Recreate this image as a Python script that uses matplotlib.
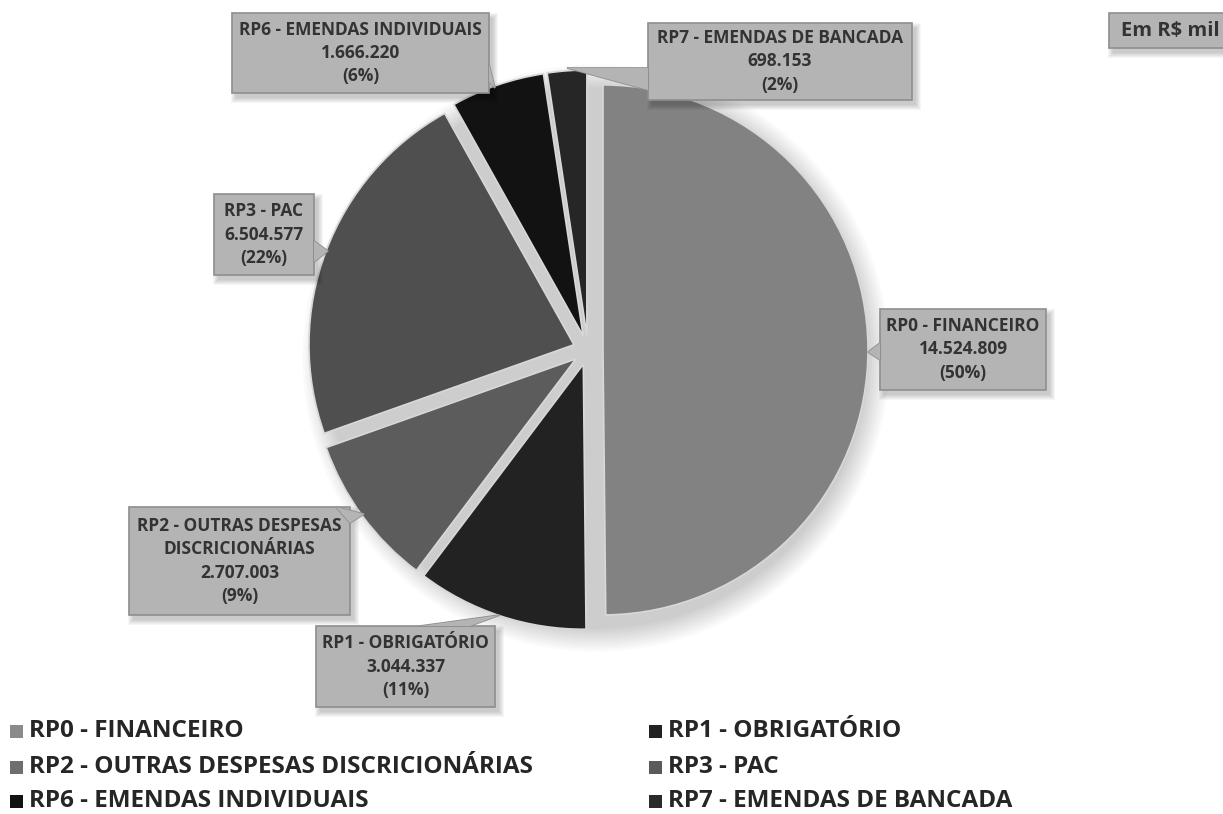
import matplotlib.pyplot as plt
from matplotlib.patches import Rectangle, Polygon, Circle

plt.rcParams['font.family'] = ['Open Sans', 'DejaVu Sans']

categories = ["RP0 - FINANCEIRO", "RP1 - OBRIGATÓRIO",
              "RP2 - OUTRAS DESPESAS DISCRICIONÁRIAS", "RP3 - PAC",
              "RP6 - EMENDAS INDIVIDUAIS", "RP7 - EMENDAS DE BANCADA"]
box_titles = ["RP0 - FINANCEIRO", "RP1 - OBRIGATÓRIO",
              "RP2 - OUTRAS DESPESAS\nDISCRICIONÁRIAS", "RP3 - PAC",
              "RP6 - EMENDAS INDIVIDUAIS", "RP7 - EMENDAS DE BANCADA"]
values = [14524809, 3044337, 2707003, 6504577, 1666220, 698153]
pct_labels = ["50%", "11%", "9%", "22%", "6%", "2%"]
colors = ["#828282", "#222222", "#5c5c5c", "#4f4f4f", "#121212", "#262626"]
legend_colors = ["#8a8a8a", "#222222", "#6e6e6e", "#5a5a5a", "#121212", "#2a2a2a"]
unit_label = "Em R$ mil"

W, H = 1223, 814
fig = plt.figure(figsize=(W / 100, H / 100), dpi=100)
ax = fig.add_axes([0, 0, 1, 1])


def fy(y):
  # pixel row (top-down) -> data y
  return H - y


def fmt(v):
  return f"{v:,}".replace(",", ".")


# soft shadow behind pie
cx, cy, r = 588, 350, 265
for k in range(10):
  ax.add_patch(Circle((cx + 8, fy(cy + 8)), r + 6 + k * 2.5, color="black",
                      alpha=0.018, lw=0, zorder=1))

# explode is in data units (pixels here)
wedges, _ = ax.pie(values, colors=colors, startangle=90, counterclock=False,
                   explode=[15] * len(values), radius=r, center=(cx, fy(cy)),
                   wedgeprops=dict(edgecolor="#d8d8d8", linewidth=1.2, zorder=2))

# callout boxes (x0, y0, x1, y1 in pixels, y down)
boxes = [(880, 309, 1046, 390), (316, 626, 495, 707), (129, 507, 350, 615),
         (214, 194, 314, 275), (232, 13, 489, 93), (648, 23, 912, 100)]
pointers = [[(880, 343), (880, 360), (868, 352)],
            [(420, 626), (470, 626), (500, 615)],
            [(336, 507), (350, 523), (364, 514)],
            [(314, 241), (314, 262), (328, 251)],
            [(489, 64), (489, 82), (495, 88)],
            [(648, 68), (648, 90), (567, 68)]]

box_face = "#b4b4b4"
box_edge = "#8e8e8e"
text_col = "#333333"


def draw_box(x0, y0, x1, y1):
  for k in range(6):
    ax.add_patch(Rectangle((x0 + 4 - k, fy(y1 + 5 + k)), (x1 - x0) + 2 * k,
                           (y1 - y0) + 2 * k, color="black", alpha=0.035,
                           lw=0, zorder=3))
  ax.add_patch(Rectangle((x0, fy(y1)), x1 - x0, y1 - y0, facecolor=box_face,
                         edgecolor=box_edge, lw=1.2, zorder=4))


for i in range(len(values)):
  x0, y0, x1, y1 = boxes[i]
  draw_box(x0, y0, x1, y1)
  pts = [(px, fy(py)) for px, py in pointers[i]]
  ax.add_patch(Polygon(pts, closed=True, facecolor=box_face, edgecolor=box_edge,
                       lw=1.2, zorder=4))
  # hide the box edge where pointer attaches
  ax.add_patch(Polygon(pts, closed=True, facecolor=box_face, edgecolor="none",
                       lw=0, zorder=5))
  label = f"{box_titles[i]}\n{fmt(values[i])}\n({pct_labels[i]})"
  ax.text((x0 + x1) / 2, fy((y0 + y1) / 2), label, ha="center", va="center",
          fontsize=12.5, fontweight="bold", color=text_col, linespacing=1.37,
          zorder=6)

# unit box at top right
draw_box(1109, 13, 1240, 48)
ax.text(1121, fy(31), unit_label, ha="left", va="center", fontsize=14.5,
        fontweight="bold", color=text_col, zorder=6)

# legend, two columns
leg_order = [0, 2, 4, 1, 3, 5]
leg_x = [10, 649]
leg_y = [731, 767, 801]
for n, idx in enumerate(leg_order):
  col, row = n // 3, n % 3
  lx, ly = leg_x[col], leg_y[row]
  ax.add_patch(Rectangle((lx, fy(ly + 7)), 13, 13, color=legend_colors[idx],
                         lw=0, zorder=6))
  ax.text(lx + 19, fy(ly), categories[idx], ha="left", va="center",
          fontsize=17.5, fontweight="bold", color="#262626", zorder=6)

ax.set_xlim(0, W)
ax.set_ylim(0, H)
ax.set_aspect("equal")
ax.axis("off")

fig.savefig("out.png", dpi=100)
